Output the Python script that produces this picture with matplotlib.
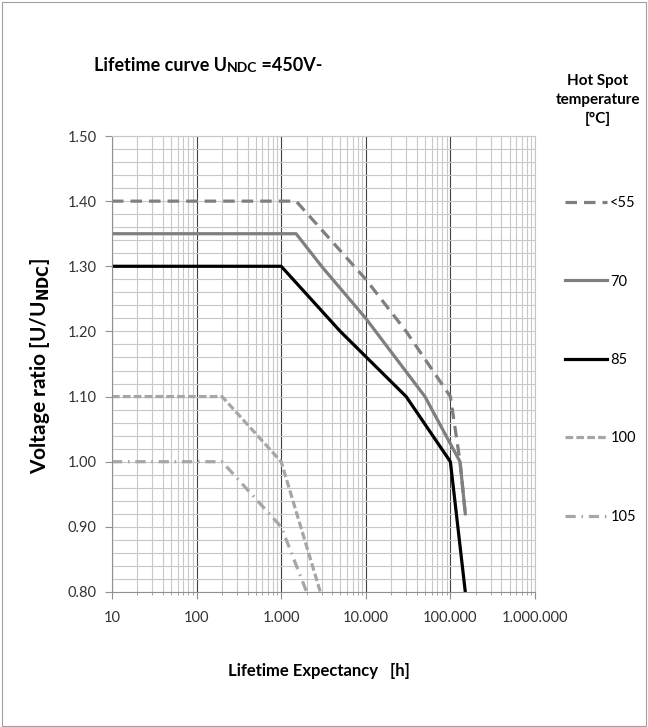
#!/usr/bin/env python3
import numpy as np
from matplotlib import pyplot as plt
from matplotlib.ticker import FixedLocator, FuncFormatter, NullFormatter
from matplotlib.patches import Rectangle

"""
Lifetime curve of a DC capacitor, voltage ratio vs lifetime for several hot spot temperatures
"""
plt.rcParams['font.family'] = ['Lato', 'DejaVu Sans']

# data
t55 = [10, 1500, 10000, 30000, 100000, 130000, 150000]
u55 = [1.40, 1.40, 1.28, 1.20, 1.10, 1.00, 0.92]
t70 = [10, 1500, 3000, 10000, 50000, 130000, 150000]
u70 = [1.35, 1.35, 1.30, 1.22, 1.10, 1.00, 0.92]
t85 = [10, 1000, 5000, 30000, 100000, 150000]
u85 = [1.30, 1.30, 1.20, 1.10, 1.00, 0.80]
t100 = [10, 200, 1000, 2900]
u100 = [1.10, 1.10, 1.00, 0.80]
t105 = [10, 200, 1000, 2000]
u105 = [1.00, 1.00, 0.90, 0.80]
labels = ['<55', '70', '85', '100', '105']
xticklab = ['10', '100', '1.000', '10.000', '100.000', '1.000.000']

W, H = 648, 727
f = plt.figure(figsize=(W/100, H/100), dpi=100)
f.patches.append(Rectangle((0.003, 0.002), 0.994, 0.995, transform=f.transFigure,
                           fill=False, ec='#a0a0a0', lw=0.8))
ax = f.add_axes([112/W, 1-592/H, (535-112)/W, (592-136)/H])

c_dark = '#7f7f7f'
c_light = '#a6a6a6'
lw = 2.3
l1, = ax.plot(t55, u55, color=c_dark, lw=lw, dashes=(3.6, 2.2))
l2, = ax.plot(t70, u70, color=c_dark, lw=lw)
l3, = ax.plot(t85, u85, color='black', lw=lw)
l4, = ax.plot(t100, u100, color=c_light, lw=lw, dashes=(2.4, 1.0))
l5, = ax.plot(t105, u105, color=c_light, lw=lw, dashes=(3.2, 1.8, 0.5, 1.8))

ax.set_xscale('log')
ax.set_xlim(10, 1e6)
ax.set_ylim(0.8, 1.5)

ax.set_yticks(np.arange(0.8, 1.501, 0.1))
ax.set_yticks(np.arange(0.8, 1.501, 0.02), minor=True)
ax.yaxis.set_major_formatter(FuncFormatter(lambda v, p: '%.2f' % v))
ax.set_xticks([10, 100, 1000, 1e4, 1e5, 1e6])
ax.set_xticklabels(xticklab)
minors = [m*10**d for d in range(1, 6) for m in range(2, 10)]
ax.xaxis.set_minor_locator(FixedLocator(minors))
ax.xaxis.set_minor_formatter(NullFormatter())

ax.grid(True, which='major', axis='x', color='#404040', lw=0.8)
ax.grid(True, which='minor', axis='x', color='#c8c8c8', lw=0.8)
ax.grid(True, which='both', axis='y', color='#c8c8c8', lw=0.8)
ax.set_axisbelow(True)
for s in ['top', 'right']:
    ax.spines[s].set_color('#c8c8c8')
for s in ['left', 'bottom']:
    ax.spines[s].set_color('#909090')
ax.tick_params(which='major', length=5, color='#909090', labelsize=10.5, labelcolor='#333333', pad=6)
ax.tick_params(axis='x', which='major', pad=9)
ax.tick_params(axis='y', which='minor', length=0)
ax.tick_params(axis='x', which='minor', length=2.5, color='#909090')

# title with small caps NDC
t1 = f.text(94/W, 1-71/H, 'Lifetime curve U', fontsize=13, fontweight='bold', va='baseline')
t2 = ax.annotate('NDC', xy=(1, 0), xycoords=t1, fontsize=10, fontweight='bold', va='bottom')
ax.annotate(' =450V-', xy=(1, 0), xycoords=t2, fontsize=13, fontweight='bold', va='bottom')

f.text(40/W, 1-366/H, 'Voltage ratio [U/U$_{\\mathbf{NDC}}$]', rotation=90, fontsize=15,
       fontweight='bold', ha='center', va='center')
f.text(319/W, 1-671/H, 'Lifetime Expectancy   [h]', fontsize=12, fontweight='bold',
       ha='center', va='center')
f.text(598/W, 1-100/H, 'Hot Spot\ntemperature\n[°C]', fontsize=11, fontweight='bold',
       ha='center', va='center', linespacing=1.45)

leg = f.legend([l1, l2, l3, l4, l5], labels, loc='upper left', bbox_to_anchor=(552/W, 1-183/H),
               frameon=False, handlelength=2.9, handletextpad=0.2, labelspacing=4.42, fontsize=10.5)

plt.savefig('out.png', dpi=100)
